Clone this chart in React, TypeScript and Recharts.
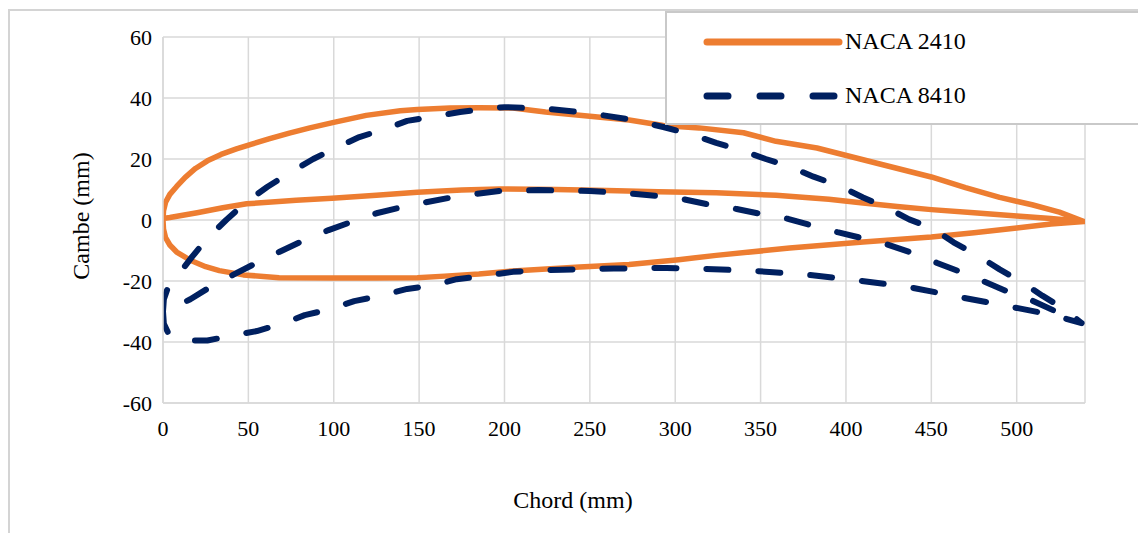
import { LineChart, Line, XAxis, YAxis, CartesianGrid } from 'recharts'

const FONT = '"Liberation Serif", "Times New Roman", serif'
const ORANGE = '#ED7D31'
const NAVY = '#002060'
const GRID = '#d9d9d9'

// x ticks / y ticks (mm)
const xTicks = [0, 50, 100, 150, 200, 250, 300, 350, 400, 450, 500]
const yTicks = [-60, -40, -20, 0, 20, 40, 60]

// NACA 2410, leading edge -> trailing edge
const n2410UpperX = [0, 0.3, 1.5, 4, 8, 13, 19, 26, 34, 43, 52, 62, 74, 86, 100, 119, 139, 149, 168, 185, 205, 224, 250, 273, 293, 314, 340, 359, 383, 402, 421, 450, 470, 490, 509, 525, 539.5]
const n2410UpperY = [0, 3, 5.8, 8.4, 11, 14, 16.9, 19.4, 21.5, 23.3, 24.9, 26.6, 28.5, 30.2, 32, 34.3, 35.8, 36.2, 36.7, 36.8, 36.7, 35.4, 34, 32.8, 31, 30.2, 28.6, 25.8, 23.6, 20.9, 18.2, 14.1, 10.6, 7.4, 5, 2.6, -0.5]
const n2410LowerX = [0, 0.3, 1.5, 4, 8, 16, 25, 33, 47, 68, 98, 125, 149, 165, 185, 205, 244, 273, 302, 324, 367, 410, 450, 475, 500, 520, 539.5]
const n2410LowerY = [0, -3, -5.8, -8.2, -10.5, -13.2, -15.3, -16.6, -18, -18.9, -19, -19, -18.9, -18.4, -17.7, -16.7, -15.4, -14.6, -13, -11.6, -9.2, -7.2, -5.6, -4.2, -2.6, -1.3, -0.5]
const n2410MidX = [0, 4, 20, 35, 49, 78, 99, 125, 149, 175, 197, 230, 260, 290, 324, 359, 390, 410, 430, 450, 475, 500, 520, 539.5]
const n2410MidY = [0.5, 0.8, 2.4, 4, 5.3, 6.5, 7.1, 8.1, 9.1, 9.8, 10.2, 10, 9.7, 9.3, 8.9, 8.1, 6.8, 5.6, 4.4, 3.4, 2.4, 1.3, 0.5, -0.5]

// NACA 8410
const n8410UpperX = [0, 0.5, 3, 8, 17, 26, 37, 49, 61, 74, 88, 101, 115, 130, 143, 159, 174, 190, 200, 225, 250, 273, 293, 308, 324, 338, 353, 367, 381, 396, 410, 424, 437, 451, 463, 477, 490, 503, 515, 528, 538]
const n8410UpperY = [-30, -26, -22, -18.7, -12.1, -6, 0, 6, 10.8, 15.4, 20, 23.6, 27.2, 29.8, 32.5, 34, 35.4, 36.5, 37, 36.5, 35, 33, 30.5, 28.3, 25.3, 23, 20, 17.5, 14.2, 11.2, 7.4, 4, 0.2, -2.8, -7.3, -11.6, -16.2, -20.4, -24.8, -29.3, -33.8]
const n8410LowerX = [0, 0.5, 3, 8, 15, 26, 40, 55, 70, 83, 98, 112, 127, 143, 157, 172, 187, 197, 205, 220, 234, 250, 264, 280, 295, 316, 347, 377, 407, 437, 467, 497, 520, 538]
const n8410LowerY = [-30, -34, -37, -39, -39.5, -39.5, -38, -36.4, -34, -31.2, -29.2, -26.6, -24.9, -22.6, -21.6, -19.4, -18.5, -17.6, -17, -16.5, -16.3, -16, -15.9, -15.8, -15.7, -16, -16.7, -17.9, -19.8, -22, -25.3, -28.5, -31, -33.8]
const n8410MidX = [0, 5, 16, 29, 41, 55, 68, 82, 97, 110, 125, 139, 154, 169, 184, 197, 220, 250, 270, 291, 305, 321, 336, 351, 366, 380, 395, 410, 424, 439, 453, 467, 481, 494, 509, 523, 538]
const n8410MidY = [-31, -29, -26, -21.5, -18, -14, -10.5, -6.8, -3.3, -0.7, 2.2, 4.1, 5.8, 7.4, 8.6, 9.5, 9.8, 9.5, 8.9, 7.8, 6.8, 4.9, 3.6, 1.9, 0.4, -1.8, -4, -6, -8, -10.8, -14, -17, -20.2, -23.3, -26.4, -30, -33.8]

type Pt = { x: number; y: number }
const pts = (xs: number[], ys: number[]): Pt[] => xs.map((x, i) => ({ x, y: ys[i] }))

// one continuous path: LE -> upper -> TE -> lower (back) -> LE -> mid -> TE
const outline = (ux: number[], uy: number[], lx: number[], ly: number[], mx: number[], my: number[]) => [
  ...pts(ux, uy),
  ...pts(lx, ly).reverse(),
  ...pts(mx, my),
]

const naca2410 = outline(n2410UpperX, n2410UpperY, n2410LowerX, n2410LowerY, n2410MidX, n2410MidY)
const naca8410 = outline(n8410UpperX, n8410UpperY, n8410LowerX, n8410LowerY, n8410MidX, n8410MidY)

function XTick({ x, y, payload }: any) {
  return (
    <text x={x} y={y} dy={15} textAnchor="middle" fill="#000" style={{ fontFamily: FONT, fontSize: 22 }}>
      {payload.value}
    </text>
  )
}

function YTick({ x, y, payload }: any) {
  return (
    <text x={x} y={y} dy={7.5} textAnchor="end" fill="#000" style={{ fontFamily: FONT, fontSize: 22 }}>
      {payload.value}
    </text>
  )
}

export default function App() {
  return (
    <div style={{ position: 'absolute', left: 0, top: 0, width: 1138, height: 533, overflow: 'hidden', background: '#fff' }}>
      {/* outer chart frame */}
      <div style={{ position: 'absolute', left: 8, top: 9, width: 1300, height: 700, border: '2px solid #d4d4d4' }} />

      <div style={{ position: 'absolute', left: 0, top: 0 }}>
        <LineChart width={1138} height={533} margin={{ top: 37, right: 53, left: 0, bottom: 0 }}>
          <CartesianGrid stroke={GRID} strokeWidth={1.5} />
          <XAxis
            type="number"
            dataKey="x"
            domain={[0, 540]}
            ticks={xTicks}
            allowDataOverflow
            height={130}
            tick={<XTick />}
            tickLine={false}
            tickSize={0}
            tickMargin={18}
            axisLine={{ stroke: GRID, strokeWidth: 1.5 }}
          />
          <YAxis
            type="number"
            dataKey="y"
            domain={[-60, 60]}
            ticks={yTicks}
            allowDataOverflow
            width={163}
            tick={<YTick />}
            tickLine={false}
            tickSize={0}
            tickMargin={11}
            axisLine={{ stroke: GRID, strokeWidth: 1.5 }}
          />
          <Line
            data={naca2410}
            dataKey="y"
            type="linear"
            stroke={ORANGE}
            strokeWidth={5.5}
            strokeLinecap="round"
            strokeLinejoin="round"
            dot={false}
            activeDot={false}
            isAnimationActive={false}
          />
          <Line
            data={naca8410}
            dataKey="y"
            type="linear"
            stroke={NAVY}
            strokeWidth={6}
            strokeDasharray="22 30"
            strokeLinecap="round"
            strokeLinejoin="round"
            dot={false}
            activeDot={false}
            isAnimationActive={false}
          />
        </LineChart>
      </div>

      {/* axis titles */}
      <div style={{
        position: 'absolute', left: 81, top: 216, transform: 'translate(-50%, -50%) rotate(-90deg)',
        fontFamily: FONT, fontSize: 24, whiteSpace: 'nowrap', color: '#000',
      }}>
        Cambe (mm)
      </div>
      <div style={{
        position: 'absolute', left: 573, top: 500, transform: 'translate(-50%, -50%)',
        fontFamily: FONT, fontSize: 24, whiteSpace: 'nowrap', color: '#000',
      }}>
        Chord (mm)
      </div>

      {/* legend box */}
      <div style={{
        position: 'absolute', left: 665, top: 11, width: 600, height: 110,
        background: '#fff', border: '2px solid #c9c9c9',
      }}>
        <svg width={180} height={110} style={{ position: 'absolute', left: 0, top: 0 }}>
          <line x1={40} y1={29} x2={172} y2={29} stroke={ORANGE} strokeWidth={7} strokeLinecap="round" />
          <line x1={40} y1={83} x2={172} y2={83} stroke={NAVY} strokeWidth={7} strokeLinecap="round" strokeDasharray="21 32" />
        </svg>
        <div style={{ position: 'absolute', left: 178, top: 15, fontFamily: FONT, fontSize: 24, whiteSpace: 'nowrap' }}>NACA 2410</div>
        <div style={{ position: 'absolute', left: 178, top: 69, fontFamily: FONT, fontSize: 24, whiteSpace: 'nowrap' }}>NACA 8410</div>
      </div>
    </div>
  )
}
